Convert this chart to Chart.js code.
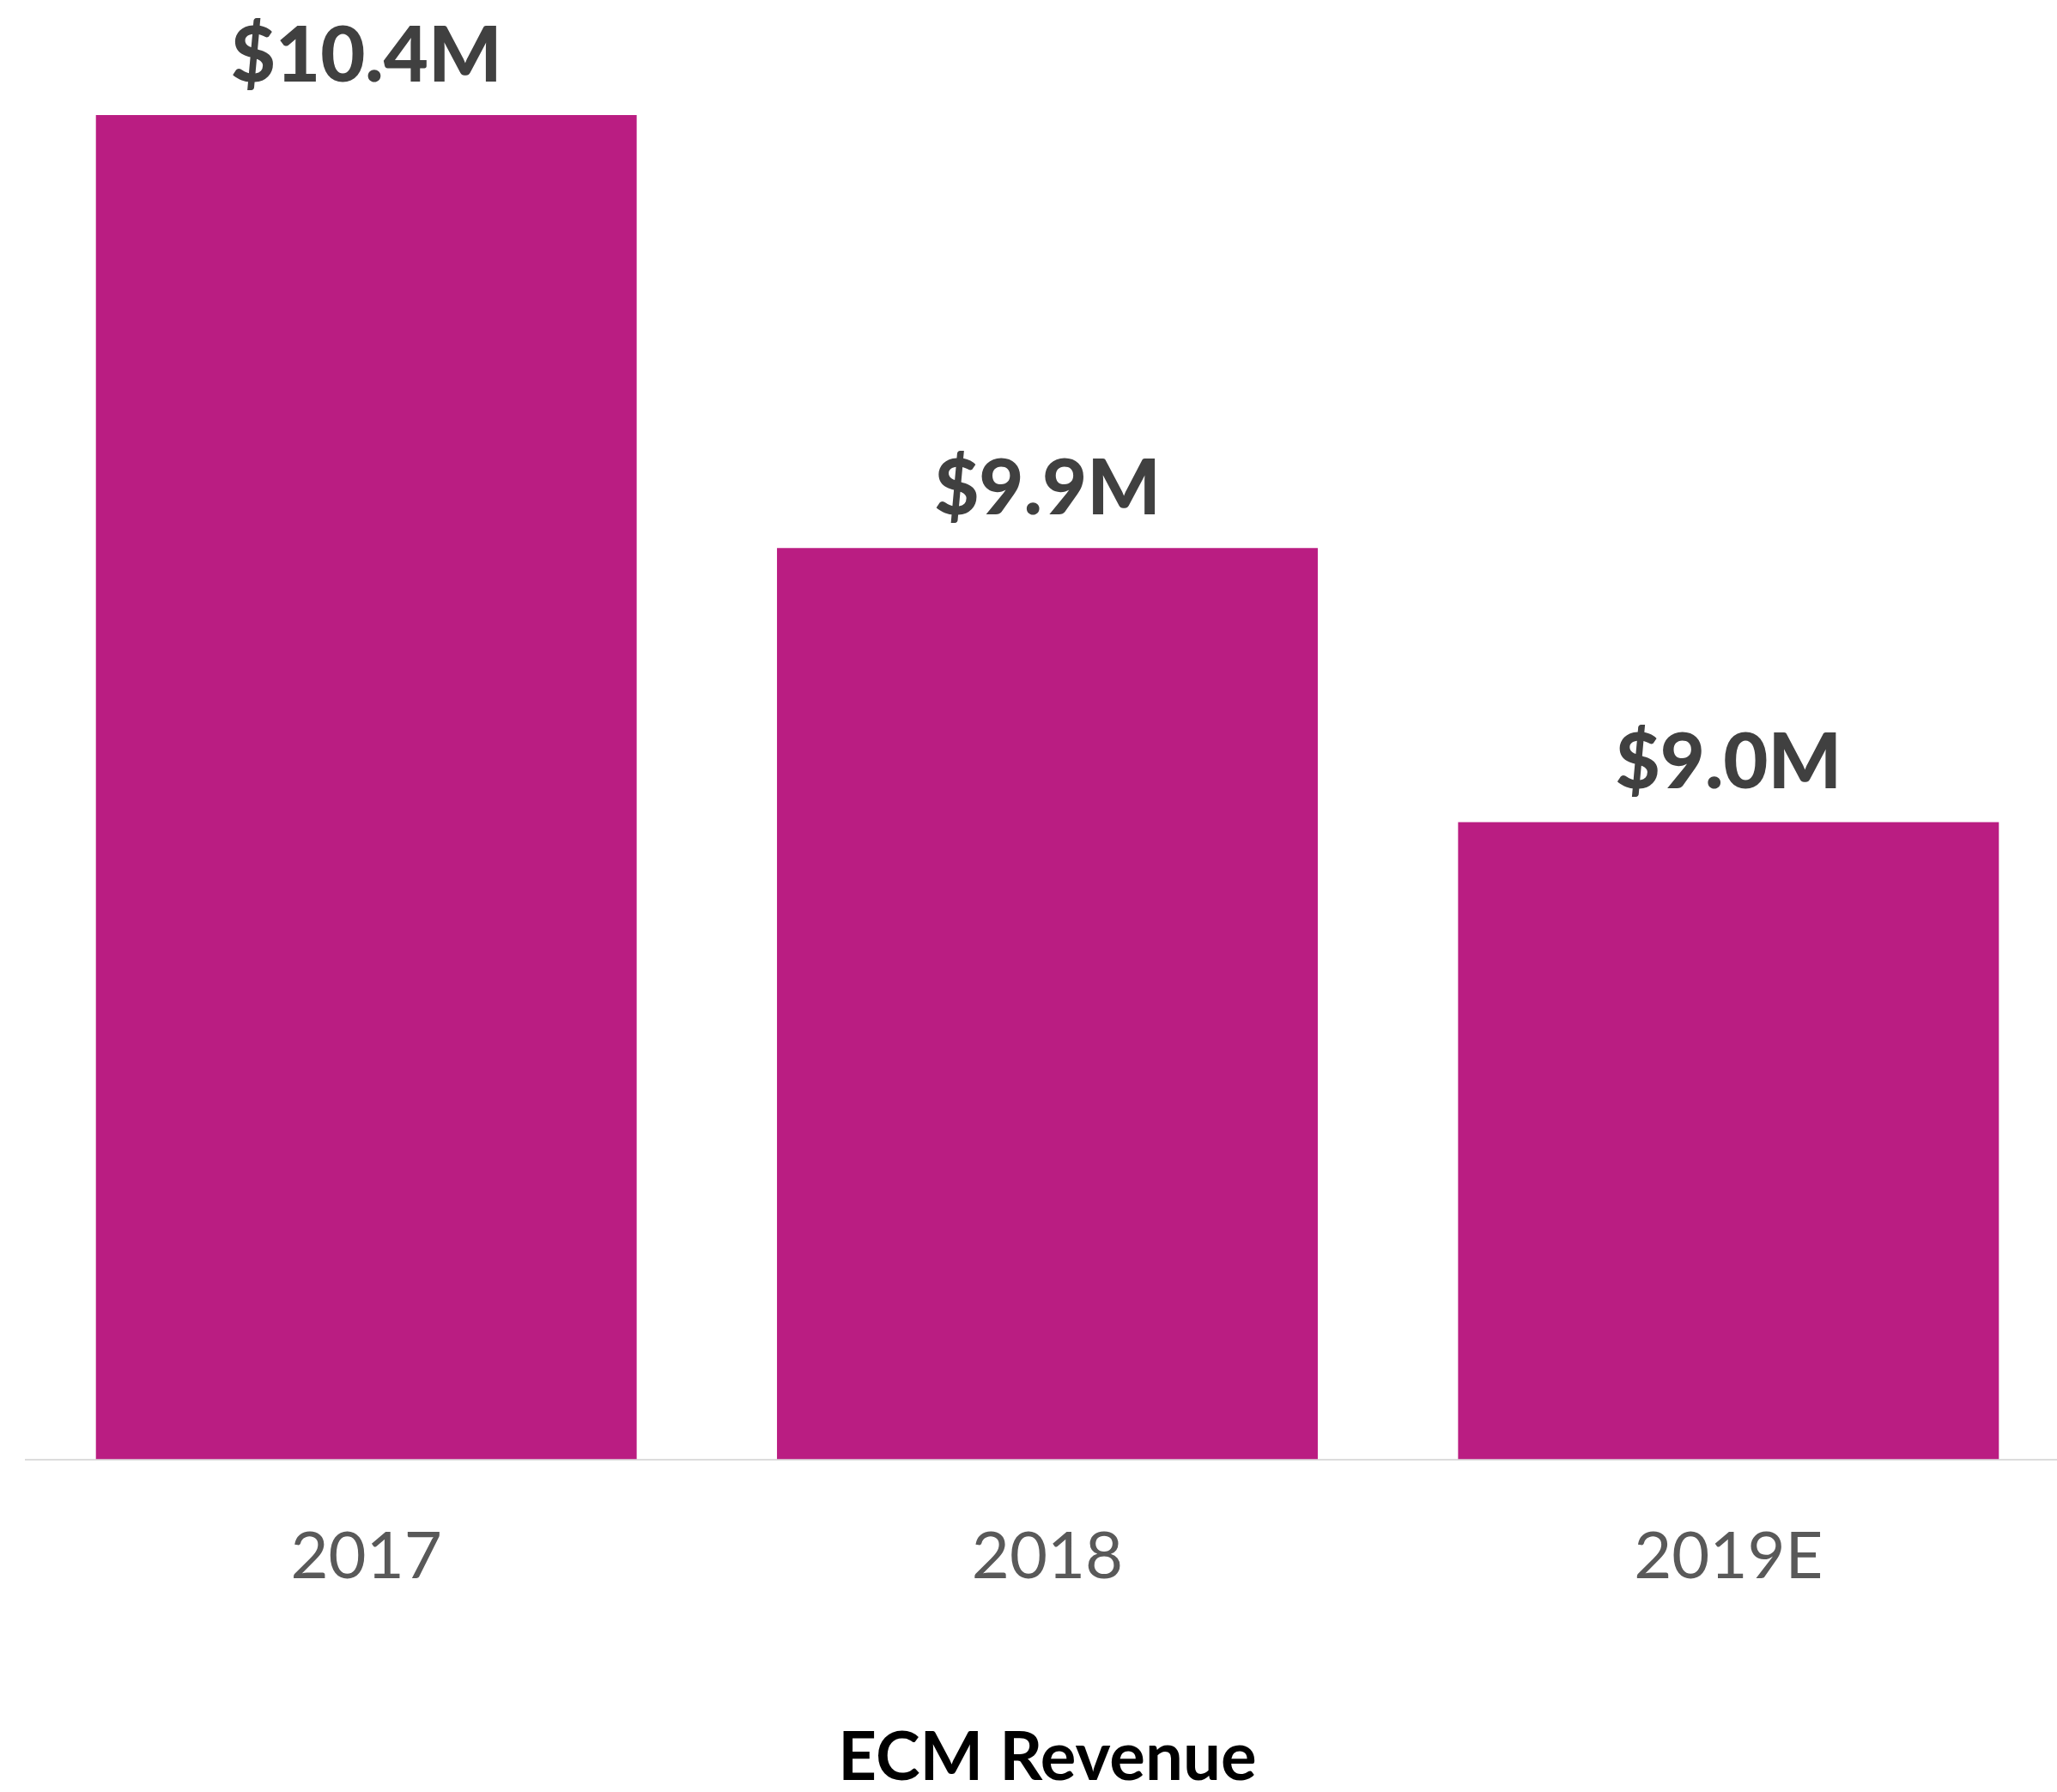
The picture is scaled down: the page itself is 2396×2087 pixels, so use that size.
<!DOCTYPE html>
<html>
<head>
  <title>ECM Revenue</title>
  <script src="https://cdn.jsdelivr.net/npm/chart.js"></script>
  <style>
    html, body {
      margin: 0;
      padding: 0;
      background: #ffffff;
      overflow: hidden;
    }
    canvas {
      display: block;
    }
  </style>
</head>
<body>
  <canvas id="chartCanvas" width="2410" height="2087"></canvas>

  <script>
    // categories and the labels printed over each bar
    const years = ['2017', '2018', '2019E'];
    const valueLabels = ['$10.4M', '$9.9M', '$9.0M'];
    // bar lengths as drawn in the source (its bars are not to scale with the printed labels)
    const barValues = [10.4, 7.05, 4.93];

    const barColor = '#BA1D82';

    // writes the value label above every bar
    const valueLabelPlugin = {
      id: 'valueLabels',
      afterDatasetsDraw(chart) {
        const ctx = chart.ctx;
        const meta = chart.getDatasetMeta(0);
        ctx.save();
        ctx.font = '900 90px Lato';
        ctx.fillStyle = '#404040';
        ctx.textAlign = 'center';
        ctx.textBaseline = 'alphabetic';
        meta.data.forEach(function(bar, i) {
          ctx.fillText(valueLabels[i], bar.x, bar.y - 39);
        });
        ctx.restore();
      }
    };

    const ctx = document.getElementById('chartCanvas').getContext('2d');
    const chart = new Chart(ctx, {
      type: 'bar',
      data: {
        labels: years,
        datasets: [{
          label: 'ECM Revenue',
          data: barValues,
          backgroundColor: barColor,
          borderWidth: 0,
          categoryPercentage: 1,
          barPercentage: 0.794
        }]
      },
      options: {
        responsive: false,
        animation: false,
        layout: {
          padding: { top: 134, left: 30, right: 0, bottom: 0 }
        },
        plugins: {
          legend: { display: false },
          tooltip: { enabled: false }
        },
        scales: {
          y: {
            display: false,
            min: 0,
            max: 10.4
          },
          x: {
            grid: {
              display: true,
              drawOnChartArea: false,
              drawTicks: false
            },
            border: {
              display: true,
              color: '#dcdcdc',
              width: 2
            },
            ticks: {
              color: '#595959',
              padding: 68,
              font: { family: 'Lato', size: 76 }
            },
            title: {
              display: true,
              text: 'ECM Revenue',
              color: '#000000',
              font: { family: 'Lato', size: 78, weight: 'bold' },
              padding: { top: 0, bottom: -8 }
            },
            afterFit: function(scale) {
              scale.height = 387.5;
            }
          }
        }
      },
      plugins: [valueLabelPlugin]
    });
  </script>
</body>
</html>
